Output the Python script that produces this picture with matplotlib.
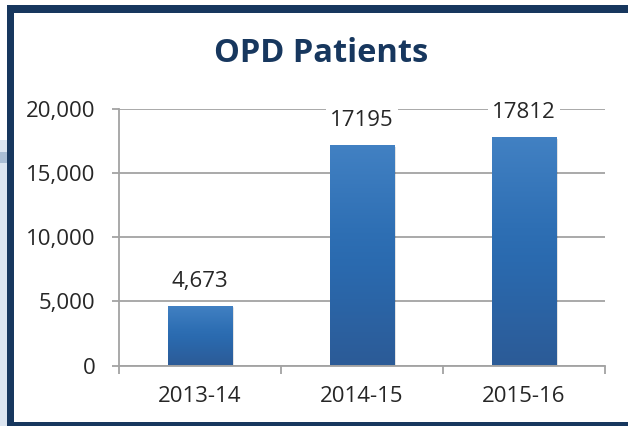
import matplotlib
matplotlib.use("Agg")
import matplotlib.pyplot as plt
import numpy as np
from matplotlib.patches import Rectangle, FancyBboxPatch
from matplotlib.colors import LinearSegmentedColormap
from matplotlib.ticker import FuncFormatter

categories = ["2013-14", "2014-15", "2015-16"]
values = [4673, 17195, 17812]
value_labels = ["4,673", "17195", "17812"]
yticks = [0, 5000, 10000, 15000, 20000]
title = "OPD Patients"

plt.rcParams['font.family'] = ['Open Sans', 'DejaVu Sans']

W, H = 628, 426
fig = plt.figure(figsize=(W / 100, H / 100), dpi=100)
fig.patch.set_facecolor("white")

navy = "#17375E"
# left decorative strip
fig.add_artist(Rectangle((0, 0), 7 / W, (H - 140) / H, transform=fig.transFigure,
                         facecolor="#DCE5F0", edgecolor="none", zorder=0))
fig.add_artist(Rectangle((0, (H - 163) / H), 7 / W, 11 / H, transform=fig.transFigure,
                         facecolor="#A9BDD4", edgecolor="none", zorder=0))
# navy border
fig.add_artist(Rectangle((7 / W, 0), 7 / W, (H - 5) / H, transform=fig.transFigure,
                         facecolor=navy, edgecolor="none", zorder=1))
fig.add_artist(Rectangle((7 / W, (H - 12.5) / H), (W - 7) / W, 7.5 / H, transform=fig.transFigure,
                         facecolor=navy, edgecolor="none", zorder=1))
fig.add_artist(Rectangle((7 / W, 0), (W - 7) / W, 4 / H, transform=fig.transFigure,
                         facecolor=navy, edgecolor="none", zorder=1))

ax = fig.add_axes([119 / W, 60.5 / H, 486 / W, 256.5 / H])
ax.set_facecolor("none")
x = np.arange(len(categories))

grid_c = "#A3A3A3"
for s in ["top", "right"]:
    ax.spines[s].set_visible(False)
ax.spines["left"].set_color(grid_c)
ax.spines["bottom"].set_color(grid_c)
ax.spines["left"].set_linewidth(1.3)
ax.spines["bottom"].set_linewidth(1.3)

ax.set_yticks(yticks)
ax.yaxis.set_major_formatter(FuncFormatter(lambda v, p: f"{int(v):,}"))
ax.grid(axis="y", color=grid_c, linewidth=1.3, zorder=0)
ax.set_axisbelow(True)
ax.tick_params(axis="y", length=5, width=1.3, color=grid_c, labelsize=16,
               labelcolor="#262626", pad=12)
ax.set_xticks([-0.5, 0.5, 1.5, 2.5], minor=False)
ax.set_xticklabels([])
ax.set_xticks(x, minor=True)
ax.set_xticklabels(categories, minor=True)
ax.tick_params(axis="x", which="major", length=6, width=1.3, color=grid_c, direction="out")
ax.tick_params(axis="x", which="minor", length=0, labelsize=16, labelcolor="#262626", pad=15)

cmap = LinearSegmentedColormap.from_list(
    "barg", [(0.0, "#2C5B97"), (0.45, "#2A6AAF"), (0.6, "#2E6FB4"), (1.0, "#4281C3")])
grad = np.linspace(0, 1, 256).reshape(-1, 1)
bw = 0.4
bars = ax.bar(x, values, width=bw, color="none", edgecolor="none", zorder=3)
for b, v in zip(bars, values):
    # soft shadow
    for k, a in enumerate([0.10, 0.07, 0.04]):
        sh = Rectangle((b.get_x() + 0.004 * (k + 1), -60 * (k + 1)), bw, v,
                       facecolor="black", alpha=a, edgecolor="none", zorder=2)
        ax.add_patch(sh)
    im = ax.imshow(grad, cmap=cmap, origin="lower", aspect="auto",
                   extent=[b.get_x(), b.get_x() + bw, 0, v], zorder=3)
    im.set_clip_path(b)
ax.set_xlim(-0.5, len(categories) - 0.5)
ax.set_ylim(0, 20000)

for xi, v, lab in zip(x, values, value_labels):
    ax.annotate(lab, (xi, v), xytext=(0, 17.5), textcoords="offset points",
                ha="center", va="center", fontsize=16, color="#262626", zorder=5,
                bbox=dict(boxstyle="square,pad=0.2", facecolor="white", edgecolor="none"))

fig.text(321 / W, 1 - 53 / H, title, ha="center", va="center", fontsize=23.5,
         fontweight="bold", color=navy)

fig.savefig("out.png", dpi=100, facecolor="white")
